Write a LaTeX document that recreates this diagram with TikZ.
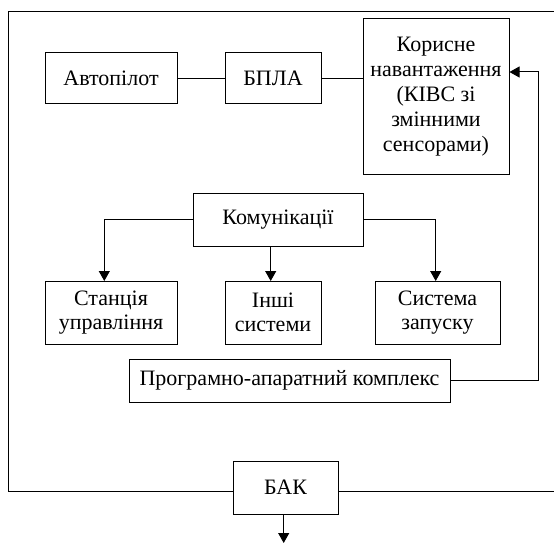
\documentclass[tikz,border=0pt]{standalone}
\usepackage{fontspec}
\setmainfont{Liberation Serif}
\usetikzlibrary{arrows.meta}
\begin{document}
\begin{tikzpicture}[x=1pt,y=-1pt,
  box/.style={draw,line width=1pt,fill=white,inner sep=0pt,align=center,
    font=\rmfamily\fontsize{22}{23.5}\selectfont},
  conn/.style={line width=1pt},
  arr/.style={line width=1pt,-{Triangle[length=10pt,width=11pt]}}]
\useasboundingbox (0,0) rectangle (554,543);
% nodes
\node[box,minimum width=132pt,minimum height=50pt] (auto) at (111,78) {Автопілот};
\node[box,minimum width=96pt,minimum height=50pt] (bpla) at (273,78) {БПЛА};
\node[box,minimum width=146pt,minimum height=155pt,font=\rmfamily\fontsize{22}{25}\selectfont] (kor) at (436,96.5)
  {Корисне\\навантаження\\(КІВС зі\\змінними\\сенсорами)};
\node[box,minimum width=170pt,minimum height=53pt] (kom) at (278,219.5) {Комунікації};
\node[box,minimum width=132pt,minimum height=63pt] (stan) at (111,312.5) {Станція\\управління};
\node[box,minimum width=96pt,minimum height=63pt] (inshi) at (273,312.5) {Інші\\системи};
\node[box,minimum width=125pt,minimum height=63pt] (sys) at (437.5,312.5) {Система\\запуску};
\node[box,minimum width=321pt,minimum height=43pt] (prog) at (289.5,380.5) {Програмно-апаратний комплекс};
\node[box,minimum width=105pt,minimum height=53pt] (bak) at (285.5,487.5) {БАК};
% coordinates
\coordinate (rr) at (538,72);
\coordinate (ftl) at (8,12);
\coordinate (ftr) at (554,12);
\coordinate (fbl) at (8,491);
\coordinate (fbr) at (554,491);
\coordinate (sa) at (104.3,281);
\coordinate (ia) at (270.7,281);
\coordinate (ya) at (435.7,281);
\coordinate (bout) at (283.7,543);
% frame
\draw[conn] (ftr) -- (ftl) -- (fbl) -- (fbl -| bak.west);
\draw[conn] (fbr -| bak.east) -- (fbr);
% connectors
\draw[conn] (auto.east) -- (bpla.west);
\draw[conn] (bpla.east) -- (bpla.east -| kor.west);
\draw[arr] (prog.east) -| (rr) -- (rr -| kor.east);
\draw[arr] (kom.west) -| (sa);
\draw[arr] (kom.east) -| (ya);
\draw[arr] (kom.south -| ia) -- (ia);
\draw[arr] (bak.south -| bout) -- (bout);
\end{tikzpicture}
\end{document}
